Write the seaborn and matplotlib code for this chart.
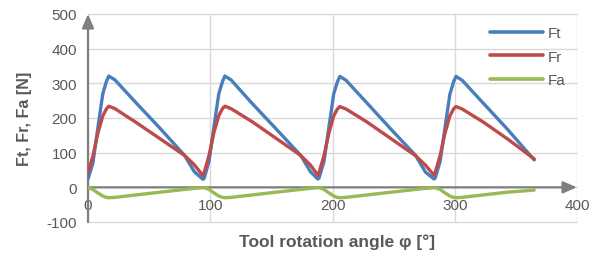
import matplotlib
matplotlib.use("Agg")
import matplotlib.pyplot as plt
import seaborn as sns
import pandas as pd

# ---- data ----
phi = [0, 4, 8, 12, 15, 17, 22, 39, 59, 79, 87,
       94, 95, 99, 103, 107, 110, 112, 117, 134, 154, 174, 182,
       188, 189, 193, 197, 201, 204, 206, 211, 228, 248, 268, 276,
       283, 284, 288, 292, 296, 299, 301, 306, 323, 343, 365]
ft = [24, 70, 170, 268, 305, 321, 310, 245, 170, 92, 45,
      23, 26, 75, 175, 270, 305, 321, 310, 243, 168, 92, 45,
      24, 27, 74, 172, 270, 304, 320, 309, 244, 167, 92, 44,
      24, 27, 74, 172, 268, 304, 320, 309, 244, 168, 79]
fr = [42, 90, 155, 205, 226, 234, 227, 188, 140, 92, 65,
      34, 42, 92, 158, 207, 227, 234, 227, 190, 141, 92, 64,
      35, 43, 91, 156, 206, 226, 233, 226, 189, 140, 91, 64,
      35, 43, 91, 156, 206, 226, 233, 226, 189, 140, 82]
fa = [-1, -6, -16, -25, -29, -30, -29, -22, -14, -6, -3,
      -1, -1, -6, -16, -25, -29, -30, -29, -22, -14, -6, -3,
      -1, -1, -6, -16, -25, -29, -30, -29, -22, -14, -6, -3,
      -1, -1, -6, -16, -25, -29, -30, -29, -22, -14, -8]
series_names = ["Ft", "Fr", "Fa"]
colors = ["#4A7EBB", "#BE4B48", "#98B954"]
x_ticks = [0, 100, 200, 300, 400]
y_ticks = [-100, 0, 100, 200, 300, 400, 500]

df = pd.concat([
    pd.DataFrame({"phi": phi, "F": vals, "series": name})
    for name, vals in zip(series_names, [ft, fr, fa])
], ignore_index=True)

sns.set_theme(style="white")
plt.rcParams["font.family"] = ["Liberation Sans", "DejaVu Sans"]
plt.rcParams["axes.unicode_minus"] = False

fig = plt.figure(figsize=(6.02, 2.55), dpi=100)
ax = fig.add_axes([88 / 602, 1 - 223 / 255, (577 - 88) / 602, (223 - 15) / 255])

sns.lineplot(data=df, x="phi", y="F", hue="series", hue_order=series_names,
             palette=colors, sort=False, estimator=None, linewidth=2.4,
             ax=ax, zorder=3)

ax.set_xlim(0, 400)
ax.set_ylim(-100, 500)
ax.set_xticks(x_ticks)
ax.set_yticks(y_ticks)
ax.grid(True, color="#D9D9D9", linewidth=1.0)
ax.set_axisbelow(True)
for g in ax.get_xgridlines() + ax.get_ygridlines():
    g.set_clip_on(False)

for s in ["top", "right", "left", "bottom"]:
    ax.spines[s].set_visible(False)
ax.spines["bottom"].set_position(("data", 0))

arrow_kw = dict(arrowstyle="-|>,head_length=0.7,head_width=0.3", color="#7F7F7F", lw=1.6,
                shrinkA=0, shrinkB=0)
ax.annotate("", xy=(400, 0), xytext=(0, 0), arrowprops=arrow_kw,
            annotation_clip=False, zorder=2)
ax.annotate("", xy=(0, 500), xytext=(0, -100), arrowprops=arrow_kw,
            annotation_clip=False, zorder=2)

ax.tick_params(axis="both", length=0, labelsize=11, colors="#595959")
ax.tick_params(axis="x", pad=8)
ax.tick_params(axis="y", pad=8)

ax.set_xlabel("Tool rotation angle φ [°]", fontsize=12.5, fontweight="bold",
              color="#595959", va="center")
ax.set_ylabel("Ft, Fr, Fa [N]", fontsize=11.5, fontweight="bold", color="#595959",
              va="center")
ax.xaxis.set_label_coords(0.51, -0.092)
ax.yaxis.set_label_coords(-0.13, 0.5)

leg = ax.legend(loc="upper right", bbox_to_anchor=(0.995, 0.985), frameon=False,
                fontsize=11, handlelength=3.5, handletextpad=0.3,
                labelspacing=0.62, borderaxespad=0.2)
for t in leg.get_texts():
    t.set_color("#595959")
for l in leg.get_lines():
    l.set_linewidth(2.6)

fig.savefig("out.png", dpi=100)
